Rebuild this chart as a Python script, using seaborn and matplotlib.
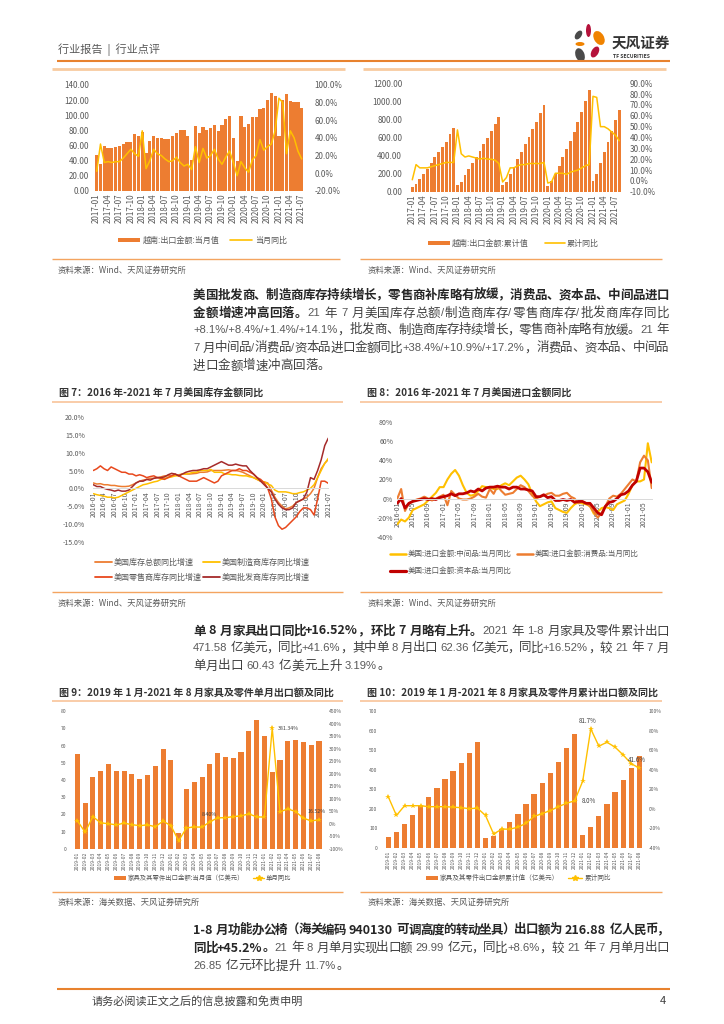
import numpy as np
import pandas as pd
import matplotlib
matplotlib.use('Agg')
import matplotlib.pyplot as plt
import seaborn as sns
from matplotlib.patches import Ellipse, Rectangle
from matplotlib.lines import Line2D

sns.set_theme(style='white')
plt.rcParams['font.family'] = ['Noto Sans CJK SC', 'DejaVu Sans']
plt.rcParams['axes.unicode_minus'] = False

# =============================================================================
# DATA
# =============================================================================

# Vietnam exports, monthly value and YoY (2017-01 .. 2021-07)
vn_months = list(pd.date_range('2017-01', periods=55, freq='MS').strftime('%Y-%m'))
vn_monthly = [47, 36, 59, 57, 57, 58, 59, 62, 64, 64, 75, 73,
              78, 50, 66, 72, 70, 70, 69, 69, 73, 76, 80, 80,
              72, 41, 86, 76, 85, 80, 83, 87, 79, 87, 95, 99,
              70, 39, 99, 85, 89, 97, 97, 108, 109, 120, 129, 125,
              73, 120, 128, 119, 117, 117, 110]
vn_monthly_yoy = [2, 33, 12, 13, 12, 13, 13, 17, 22, 27, 22, 19,
                  48, 5, 14, 27, 22, 20, 16, 13, 14, 18, 12, 8,
                  10, 4, 30, 12, 28, 17, 20, 27, 16, 10, 18, 25,
                  12, -3, 13, 6, 1, 15, 20, 38, 26, 30, 33, 48,
                  85, 80, 22, 48, 40, 25, 16]

# Vietnam exports, cumulative value and YoY (2017-01 .. 2021-08)
vn_cum_months = list(pd.date_range('2017-01', periods=56, freq='MS').strftime('%Y-%m'))
vn_cum = [48, 80, 145, 200, 255, 320, 380, 440, 495, 555, 640, 700,
          70, 105, 180, 255, 320, 385, 455, 525, 600, 670, 750, 830,
          70, 110, 200, 275, 360, 440, 530, 610, 690, 770, 870, 965,
          65, 115, 200, 290, 380, 470, 560, 660, 770, 880, 1000, 1125,
          120, 195, 320, 445, 555, 675, 795, 905]
vn_cum_yoy = [1, 15, 12, 12, 12, 13, 14, 15, 16, 17, 17, 17,
              47, 25, 22, 23, 22, 21, 20, 21, 20, 20, 19, 16,
              -1, 3, 12, 12, 14, 15, 15, 16, 16, 16, 16, 17,
              -2, -1, 7, 7, 7, 6, 8, 9, 10, 12, 14, 15,
              78, 77, 50, 50, 48, 45, 42, 37]

# US inventories YoY (2016-01 .. 2021-07)
us_months = list(pd.date_range('2016-01', periods=67, freq='MS').strftime('%Y-%m'))
inv_total = [1.5, 1.2, 1.3, 1.0, 1.0, 0.8, 0.8, 0.6, 0.5, 0.5, 0.6, 1.0,
             1.5, 2.0, 2.3, 2.5, 2.8, 2.8, 3.0, 3.2, 3.5, 3.5, 3.6, 3.6,
             3.8, 4.0, 4.0, 4.0, 4.1, 4.2, 4.5, 4.5, 4.6, 5.0, 5.0, 5.0,
             5.0, 5.1, 5.2, 5.0, 5.0, 4.8, 4.5, 4.0, 3.5, 3.0, 2.5, 2.0,
             1.8, 1.5, -0.5, -2.5, -4.0, -5.0, -5.8, -5.5, -5.0, -4.0, -3.5, -3.0,
             -2.5, -1.5, 0.0, 3.0, 5.5, 7.0, 8.1]
inv_manuf = [-1.5, -1.8, -2.0, -2.2, -2.5, -2.5, -2.7, -2.5, -2.0, -1.5, -1.0, -0.5,
             0.0, 0.5, 1.0, 1.2, 1.5, 1.8, 2.0, 2.5, 2.8, 3.0, 3.2, 3.5,
             3.5, 4.0, 4.0, 4.2, 4.5, 4.5, 5.0, 5.0, 5.0, 5.3, 4.5, 4.5,
             4.5, 4.0, 4.0, 3.8, 3.8, 3.6, 3.5, 3.5, 3.2, 3.0, 2.5, 2.0,
             1.8, 1.2, 0.8, -0.5, -1.0, -1.0, -1.0, -1.2, -1.5, -1.5, -1.2, -1.0,
             -0.5, 0.0, 1.0, 3.0, 5.0, 7.0, 8.4]
inv_retail = [5.0, 5.5, 6.3, 5.5, 5.0, 6.0, 5.5, 5.0, 4.5, 4.5, 4.0, 4.0,
              3.5, 3.8, 3.5, 3.0, 3.3, 3.5, 3.0, 2.8, 2.5, 3.0, 3.5, 4.0,
              3.5, 3.0, 2.5, 2.0, 2.0, 2.0, 2.5, 3.0, 2.5, 2.0, 1.5, 2.0,
              3.5, 4.0, 4.5, 5.0, 5.0, 5.5, 5.0, 5.0, 4.5, 4.0, 3.0, 2.5,
              1.5, 0.0, -3.0, -8.0, -10.5, -11.5, -11.0, -10.0, -9.0, -8.0, -6.5, -5.5,
              -5.5, -6.0, -7.5, -3.0, 2.0, 2.0, 1.4]
inv_wholesale = [1.0, 0.5, 0.5, 0.0, -0.3, -0.5, -0.8, -0.5, -0.8, -0.8, -0.5, 0.5,
                 1.5, 2.0, 2.0, 2.5, 2.3, 2.8, 3.0, 3.0, 3.2, 3.8, 4.2, 4.0,
                 3.5, 4.0, 4.5, 4.8, 5.0, 5.0, 5.2, 5.5, 5.5, 6.0, 6.5, 7.0,
                 7.5, 7.0, 6.5, 6.5, 6.8, 6.5, 6.3, 6.3, 5.0, 4.0, 3.0, 2.0,
                 1.0, 0.0, -1.0, -3.0, -4.5, -5.5, -6.0, -6.0, -5.5, -4.0, -3.5, -3.0,
                 -1.0, 3.0, 2.5, 5.0, 8.0, 12.0, 14.1]
inv_names = ['美国库存总额同比增速', '美国制造商库存同比增速',
             '美国零售商库存同比增速', '美国批发商库存同比增速']

# US imports YoY (2016-01 .. 2021-07)
imp_inter = [-27, -22, -24, -20, -12, -10, -8, -6, -2, 2, 6, 12,
             12, 20, 26, 30, 24, 14, 6, 3, 4, 8, 13, 12,
             12, 10, 10, 14, 16, 14, 18, 22, 24, 20, 15, 5,
             -3, -8, -6, -4, -3, -10, -12, -14, -15, -10, -6, -4,
             -5, -6, -8, -16, -14, -10, -9, -10, -12, -6, -4, -2,
             5, 14, 18, 18, 20, 58, 38]
imp_consumer = [0, 10, -13, -5, -3, -1, 0, 2, 0, -2, 0, 2,
                4, -7, 8, 4, 0, -1, -1, 0, 2, 5, 2, 1,
                10, 5, 13, 8, 4, 5, 6, 10, 14, 12, 8, 3,
                0, 2, 3, 5, 6, 3, 3, 5, 6, 2, 0, -5,
                -3, -5, -8, -14, -20, -15, -8, 0, 3, 2, 5, 10,
                15, 20, 18, 38, 45, 40, 11]
imp_capital = [-5, 0, -10, -5, -3, -2, -1, 0, -1, 0, -1, 1,
               2, 3, 5, 3, 5, 5, 6, 8, 7, 10, 8, 11,
               12, 12, 13, 12, 12, 10, 12, 12, 10, 10, 9, 8,
               2, 2, 4, 1, 2, -2, -2, -1, -2, -1, -4, -3,
               -3, -5, -5, -10, -15, -17, -8, -4, -3, 0, 4, 5,
               8, 14, 18, 32, 32, 28, 17]
imp_names = ['美国:进口金额:中间品:当月同比', '美国:进口金额:消费品:当月同比',
             '美国:进口金额:资本品:当月同比']

# China furniture exports (2019-01 .. 2021-08)
fur_months = list(pd.date_range('2019-01', periods=32, freq='MS').strftime('%Y-%m'))
fur_monthly = [55, 26.5, 41.5, 45, 49.5, 45.5, 45, 43.5, 40.5, 43, 48, 58,
               51.5, 9.3, 35, 39, 42, 49.5, 55.5, 53.5, 53, 56.5, 68.5, 74.5,
               65.5, 44.6, 51.5, 62.5, 63, 62, 60.43, 62.36]
fur_monthly_yoy = [13, -33, 29, 4, 1, -4, 3, -3, -7, -4, -11, 11,
                   -7, -67, -16, -12, -13, 8.4, 24, 25, 29, 32, 40, 28,
                   27, 381.34, 48, 60, 49, 23, 12, 16.52]
fur_cum = [55, 82, 123, 168, 215, 262, 307, 350, 391, 434, 483, 541,
           51, 60, 95, 132, 173, 222, 277, 330, 382, 441, 510, 582,
           64, 107, 160, 222, 285, 347, 408, 471.58]
fur_cum_yoy = [12, -7, 3, 3, 3, 2, 2, 2, 1.5, 1, 0, 0.5,
               -7, -26, -21, -21, -19, -15, -8, -5, -2, 2, 5.5, 8.0,
               28, 81.7, 64, 68, 63, 55, 46, 41.6]

# =============================================================================
# PAGE SETUP
# =============================================================================

W, H = 724, 1024
fig = plt.figure(figsize=(7.24, 10.24), dpi=100)
fig.patch.set_facecolor('white')
renderer = fig.canvas.get_renderer()

ORANGE = '#ED7D31'
GOLD = '#FFC000'
LINE_OR = '#F4A460'
TICK = '#595959'


def fx(x):
    return x / W


def fy(y):
    return 1 - y / H


def add_ax(x0, y0, x1, y1):
    return fig.add_axes([fx(x0), fy(y1), (x1 - x0) / W, (y1 - y0) / H])


def hline(x0, x1, y, color, lw=1.0):
    fig.add_artist(Line2D([fx(x0), fx(x1)], [fy(y), fy(y)], transform=fig.transFigure,
                          color=color, lw=lw, solid_capstyle='butt'))


def ftext(x, y, s, size, color='#404040', weight='normal', ha='left', va='center'):
    return fig.text(fx(x), fy(y), s, fontsize=size, color=color, fontweight=weight,
                    ha=ha, va=va)


def leg_patch(x0, x1, y, color, h=4.5):
    fig.add_artist(Rectangle((fx(x0), fy(y + h / 2)), (x1 - x0) / W, h / H,
                             transform=fig.transFigure, color=color, lw=0))


def leg_line(x0, x1, y, color, lw=1.2, marker=None):
    xm = (x0 + x1) / 2
    fig.add_artist(Line2D([fx(x0), fx(xm), fx(x1)], [fy(y)] * 3, transform=fig.transFigure,
                          color=color, lw=lw, marker=marker, markevery=[1], markersize=4))


def style_ax(ax, size):
    for s in ax.spines.values():
        s.set_visible(False)
    ax.tick_params(axis='both', length=0, labelsize=size, labelcolor=TICK, pad=2)
    ax.set_xlabel('')
    ax.set_ylabel('')
    ax.grid(False)
    ax.patch.set_alpha(0)


def zero_spine(ax):
    sp = ax.spines['bottom']
    sp.set_visible(True)
    sp.set_position(('data', 0))
    sp.set_color('#D9D9D9')
    sp.set_linewidth(0.7)


def para_line(y, segs, x0=193, x1=669, justify=True, size=9):
    em = size * 100 / 72
    tokens = []  # (text, bold, kind)
    for txt, bold in segs:
        run = ''
        for ch in txt:
            if ord(ch) < 128 and ch != ' ':
                run += ch
                continue
            if run:
                tokens.append((run, bold, 'a'))
                run = ''
            tokens.append((ch, bold, 's' if ch == ' ' else 'c'))
        if run:
            tokens.append((run, bold, 'a'))
    objs, widths = [], []
    for txt, bold, kind in tokens:
        w8 = 'bold' if bold else 'normal'
        if kind == 's':
            objs.append(None)
            widths.append(em * 0.28)
        elif kind == 'c':
            objs.append(fig.text(0, fy(y), txt, fontsize=size, fontweight=w8,
                                 color='#262626' if bold else '#404040',
                                 ha='center', va='center'))
            widths.append(em)
        else:
            if bold:
                t = fig.text(0, fy(y), txt, fontsize=size, fontweight='bold',
                             color='#262626', ha='left', va='center')
            else:
                t = fig.text(0, fy(y), txt, fontsize=size * 0.9, color='#595959',
                             family=['Liberation Sans', 'DejaVu Sans'],
                             ha='left', va='center')
            objs.append(t)
            widths.append(t.get_window_extent(renderer).width + em * 0.06)
    gaps = [i for i in range(len(tokens) - 1)
            if tokens[i][2] == 'c' or tokens[i + 1][2] == 'c']
    extra = 0
    if justify and gaps:
        extra = (x1 - x0 - sum(widths)) / len(gaps)
    gapset = set(gaps)
    x = x0
    for i, (o, w) in enumerate(zip(objs, widths)):
        if o is not None:
            if tokens[i][2] == 'c':
                o.set_x(fx(x + w / 2))
            else:
                o.set_x(fx(x))
        x += w
        if i in gapset:
            x += extra


# =============================================================================
# HEADER / FOOTER
# =============================================================================

ftext(58, 50, '行业报告  |  行业点评', 8, color='#595959')
hline(57, 670, 61, '#E8822E', 1.5)
hline(52, 345, 69, '#F8CBA0', 2.0)
hline(363, 666, 69, '#F8CBA0', 2.0)

logo = add_ax(570, 20, 612, 64)
logo.set_xlim(570, 612)
logo.set_ylim(64, 20)
logo.axis('off')
for (cx, cy, w, h, ang, col) in [(588.5, 30.5, 5, 13, 0, '#B5123B'),
                                  (578.5, 35, 6, 10, 35, '#4A4A4A'),
                                  (599, 38, 10, 15, -30, '#F08300'),
                                  (580, 44, 9, 4, 0, '#F08300'),
                                  (595, 52, 7, 12, 30, '#B5123B'),
                                  (580, 55, 9, 14, -20, '#4A4A4A')]:
    logo.add_patch(Ellipse((cx, cy), w, h, angle=ang, color=col, lw=0))
ftext(612, 43, '天风证券', 10.5, color='#333333', weight='bold')
ftext(613, 56, 'TF SECURITIES', 3.6, color='#333333', weight='bold')

hline(57, 670, 989, '#E8822E', 1.5)
ftext(92, 1001, '请务必阅读正文之后的信息披露和免责申明', 8, color='#404040')
ftext(666, 1001, '4', 8, color='#404040', ha='right')

# =============================================================================
# CHART 1: Vietnam monthly exports
# =============================================================================

n1 = len(vn_months)
ax = add_ax(94.8, 85, 303.6, 190.7)
sns.barplot(x=vn_months, y=vn_monthly, color=ORANGE, saturation=1, width=0.85,
            errorbar=None, linewidth=0, ax=ax)
ax.set_xlim(-0.5, n1 - 0.5)
ax.set_ylim(0, 140)
ax.set_yticks(range(0, 141, 20))
ax.set_yticklabels([f'{v:.2f}' for v in range(0, 141, 20)])
ax.set_xticks(range(0, n1, 3))
ax.set_xticklabels(vn_months[::3], rotation=90)
style_ax(ax, 5.8)
ax.tick_params(axis='y', pad=4)
ax2 = ax.twinx()
sns.lineplot(x=np.arange(n1), y=vn_monthly_yoy, color=GOLD, lw=1.1, ax=ax2)
ax2.set_ylim(-20, 100)
ax2.set_yticks(range(-20, 101, 20))
ax2.set_yticklabels([f'{v:.1f}%' for v in range(-20, 101, 20)])
style_ax(ax2, 5.8)
ax2.tick_params(axis='y', pad=8)
leg_patch(118, 140, 240, ORANGE)
ftext(143, 240, '越南:出口金额:当月值', 5.8, color=TICK)
leg_line(230, 252, 240, GOLD)
ftext(255, 240, '当月同比', 5.8, color=TICK)
hline(52, 340, 259, LINE_OR, 1.0)
ftext(58, 270, '资料来源：Wind、天风证券研究所', 6, color='#595959')

# =============================================================================
# CHART 2: Vietnam cumulative exports
# =============================================================================

n2 = len(vn_cum_months)
ax = add_ax(410.4, 83.3, 621.2, 191.7)
sns.barplot(x=vn_cum_months, y=vn_cum, color=ORANGE, saturation=1, width=0.75,
            errorbar=None, linewidth=0, ax=ax)
ax.set_xlim(-0.5, n2 - 0.5)
ax.set_ylim(0, 1200)
ax.set_yticks(range(0, 1201, 200))
ax.set_yticklabels([f'{v:.2f}' for v in range(0, 1201, 200)])
ax.set_xticks(range(0, n2, 3))
ax.set_xticklabels(vn_cum_months[::3], rotation=90)
style_ax(ax, 5.8)
ax.tick_params(axis='y', pad=6)
ax2 = ax.twinx()
sns.lineplot(x=np.arange(n2), y=vn_cum_yoy, color=GOLD, lw=1.1, ax=ax2)
ax2.set_ylim(-10, 90)
ax2.set_yticks(range(-10, 91, 10))
ax2.set_yticklabels([f'{v:.1f}%' for v in range(-10, 91, 10)])
style_ax(ax2, 5.8)
ax2.tick_params(axis='y', pad=6)
leg_patch(428, 450, 243, ORANGE)
ftext(452, 243, '越南:出口金额:累计值', 5.8, color=TICK)
leg_line(545, 565, 243, GOLD)
ftext(567, 243, '累计同比', 5.8, color=TICK)
hline(360, 662, 259, LINE_OR, 1.0)
ftext(368, 270, '资料来源：Wind、天风证券研究所', 6, color='#595959')

# =============================================================================
# PARAGRAPH 1
# =============================================================================

para_line(295, [('美国批发商、制造商库存持续增长，零售商补库略有放缓，消费品、资本品、中间品进口', True)])
para_line(313, [('金额增速冲高回落。', True),
                ('21 年 7 月美国库存总额/制造商库存/零售商库存/批发商库存同比', False)])
para_line(330, [('+8.1%/+8.4%/+1.4%/+14.1%，批发商、制造商库存持续增长，零售商补库略有放缓。21 年', False)])
para_line(348, [('7 月中间品/消费品/资本品进口金额同比+38.4%/+10.9%/+17.2%，消费品、资本品、中间品', False)])
para_line(366, [('进口金额增速冲高回落。', False)], justify=False)

# =============================================================================
# CHART 7: US inventories
# =============================================================================

ftext(59, 393, '图 7：2016 年-2021 年 7 月美国库存金额同比', 7.2, color='#333333', weight='bold')
hline(52, 343, 402, '#F8C49A', 1.2)
n7 = len(us_months)
ax = add_ax(93.3, 417.1, 328.3, 541.7)
inv_colors = ['#ED7D31', '#FFC000', '#E8481C', '#A52A2A']
for vals, col in zip([inv_total, inv_manuf, inv_retail, inv_wholesale], inv_colors):
    sns.lineplot(x=np.arange(n7), y=vals, color=col, lw=1.1, ax=ax)
style_ax(ax, 5)
zero_spine(ax)
ax.set_xlim(0, n7 - 1)
ax.set_ylim(-15, 20)
ax.set_yticks(range(-15, 21, 5))
ax.set_yticklabels([f'{v:.1f}%' for v in range(-15, 21, 5)])
ax.set_xticks(range(0, n7, 3))
ax.set_xticklabels(us_months[::3], rotation=90)
ax.tick_params(axis='both', length=0, labelsize=5, labelcolor=TICK)
ax.tick_params(axis='y', pad=6)
ax.tick_params(axis='x', pad=2)
for (px, py), name, col in zip([(95, 562), (203, 562), (95, 577), (203, 577)], inv_names, inv_colors):
    leg_line(px, px + 17, py, col, lw=1.3)
    ftext(px + 19, py, name, 5.8, color=TICK)
hline(52, 343, 592, LINE_OR, 1.0)
ftext(58, 603, '资料来源：Wind、天风证券研究所', 6, color='#595959')

# =============================================================================
# CHART 8: US imports
# =============================================================================

ftext(367, 393, '图 8：2016 年-2021 年 7 月美国进口金额同比', 7.2, color='#333333', weight='bold')
hline(360, 662, 402, '#F8C49A', 1.2)
ax = add_ax(397.3, 422.3, 651.7, 536.7)
imp_colors = ['#FFC000', '#ED7D31', '#C00000']
imp_widths = [1.5, 1.5, 2.0]
for vals, col, lw in zip([imp_inter, imp_consumer, imp_capital], imp_colors, imp_widths):
    sns.lineplot(x=np.arange(n7), y=vals, color=col, lw=lw, ax=ax)
style_ax(ax, 5)
zero_spine(ax)
ax.set_xlim(0, n7 - 1)
ax.set_ylim(-40, 80)
ax.set_yticks(range(-40, 81, 20))
ax.set_yticklabels([f'{v}%' for v in range(-40, 81, 20)])
ax.set_xticks(range(0, n7, 4))
ax.set_xticklabels(us_months[::4], rotation=90)
ax.tick_params(axis='both', length=0, labelsize=5, labelcolor=TICK)
ax.tick_params(axis='y', pad=3)
ax.tick_params(axis='x', pad=2)
for (px, py), name, col, lw in zip([(390, 554), (517, 554), (390, 571)], imp_names,
                                   imp_colors, imp_widths):
    leg_line(px, px + 16, py, col, lw=lw + 0.3)
    ftext(px + 18, py, name, 5.4, color=TICK)
hline(360, 662, 592, LINE_OR, 1.0)
ftext(368, 603, '资料来源：Wind、天风证券研究所', 6, color='#595959')

# =============================================================================
# PARAGRAPH 2
# =============================================================================

para_line(631, [('单 8 月家具出口同比+16.52%，环比 7 月略有上升。', True),
                ('2021 年 1-8 月家具及零件累计出口', False)])
para_line(648, [('471.58 亿美元，同比+41.6%，其中单 8 月出口 62.36 亿美元，同比+16.52%，较 21 年 7 月', False)])
para_line(666, [('单月出口 60.43 亿美元上升 3.19%。', False)], justify=False)

# =============================================================================
# CHART 9: furniture monthly exports
# =============================================================================

ftext(59, 693, '图 9：2019 年 1 月-2021 年 8 月家具及零件单月出口额及同比', 7.2,
      color='#333333', weight='bold')
hline(52, 343, 701, '#F8C49A', 1.2)
n9 = len(fur_months)
ax = add_ax(73.4, 711, 322.9, 849)
sns.barplot(x=fur_months, y=fur_monthly, color=ORANGE, saturation=1, width=0.65,
            errorbar=None, linewidth=0, ax=ax)
ax.set_xlim(-0.5, n9 - 0.5)
ax.set_ylim(0, 80)
ax.set_yticks(range(0, 81, 10))
ax.set_xticks(range(n9))
ax.set_xticklabels(fur_months, rotation=90)
style_ax(ax, 3.6)
ax.tick_params(axis='y', pad=5)
ax2 = ax.twinx()
sns.lineplot(x=np.arange(n9), y=fur_monthly_yoy, color=GOLD, lw=1.0, marker='*',
             markersize=4, markeredgewidth=0, ax=ax2)
ax2.set_ylim(-100, 450)
ax2.set_yticks(range(-100, 451, 50))
ax2.set_yticklabels([f'{v}%' for v in range(-100, 451, 50)])
style_ax(ax2, 3.6)
ax2.tick_params(axis='y', pad=4)
ax2.annotate('381.34%', (25, 381.34), xytext=(4, 0), textcoords='offset points',
             fontsize=3.8, color='#404040', va='center', ha='left')
ax2.annotate('8.40%', (17, 8.4), xytext=(0, 5), textcoords='offset points',
             fontsize=3.8, color='#404040', va='center', ha='center')
ax2.annotate('16.52%', (31, 16.52), xytext=(-2, 6), textcoords='offset points',
             fontsize=3.8, color='#404040', va='center', ha='center')
leg_patch(114, 126, 878, ORANGE)
ftext(128, 878, '家具及其零件出口金额:当月值（亿美元）', 4.6, color=TICK)
leg_line(253, 264, 878, GOLD, lw=1.0, marker='*')
ftext(266, 878, '单月同比', 4.6, color=TICK)
hline(52, 343, 892, LINE_OR, 1.0)
ftext(58, 902, '资料来源：海关数据、天风证券研究所', 6, color='#595959')

# =============================================================================
# CHART 10: furniture cumulative exports
# =============================================================================

ftext(367, 693, '图 10：2019 年 1 月-2021 年 8 月家具及零件月累计出口额及同比', 7.2,
      color='#333333', weight='bold')
hline(360, 662, 701, '#F8C49A', 1.2)
ax = add_ax(384.3, 711, 643.4, 847.7)
sns.barplot(x=fur_months, y=fur_cum, color=ORANGE, saturation=1, width=0.65,
            errorbar=None, linewidth=0, ax=ax)
ax.set_xlim(-0.5, n9 - 0.5)
ax.set_ylim(0, 700)
ax.set_yticks(range(0, 701, 100))
ax.set_xticks(range(n9))
ax.set_xticklabels(fur_months, rotation=90)
style_ax(ax, 3.6)
ax.tick_params(axis='y', pad=5)
ax2 = ax.twinx()
sns.lineplot(x=np.arange(n9), y=fur_cum_yoy, color=GOLD, lw=1.0, marker='*',
             markersize=4, markeredgewidth=0, ax=ax2)
ax2.set_ylim(-40, 100)
ax2.set_yticks(range(-40, 101, 20))
ax2.set_yticklabels([f'{v}%' for v in range(-40, 101, 20)])
style_ax(ax2, 3.6)
ax2.tick_params(axis='y', pad=4)
ax2.annotate('81.7%', (25, 81.7), xytext=(-2, 6), textcoords='offset points',
             fontsize=4.5, color='#404040', va='center', ha='center')
ax2.annotate('8.0%', (23, 8.0), xytext=(5, 0), textcoords='offset points',
             fontsize=4.5, color='#404040', va='center', ha='left')
ax2.annotate('41.6%', (31, 41.6), xytext=(-2, 6), textcoords='offset points',
             fontsize=4.5, color='#404040', va='center', ha='center')
leg_patch(426, 438, 878, ORANGE)
ftext(440, 878, '家具及其零件出口金额累计值（亿美元）', 4.8, color=TICK)
leg_line(568, 582, 878, GOLD, lw=1.0, marker='*')
ftext(585, 878, '累计同比', 4.8, color=TICK)
hline(360, 662, 892, LINE_OR, 1.0)
ftext(368, 902, '资料来源：海关数据、天风证券研究所', 6, color='#595959')

# =============================================================================
# PARAGRAPH 3
# =============================================================================

para_line(930, [('1-8 月功能办公椅（海关编码 940130 可调高度的转动坐具）出口额为 216.88 亿人民币，', True)])
para_line(948, [('同比+45.2%。', True),
                ('21 年 8 月单月实现出口额 29.99 亿元，同比+8.6%，较 21 年 7 月单月出口', False)])
para_line(966, [('26.85 亿元环比提升 11.7%。', False)], justify=False)

fig.savefig('out.png', dpi=100, facecolor='white')
